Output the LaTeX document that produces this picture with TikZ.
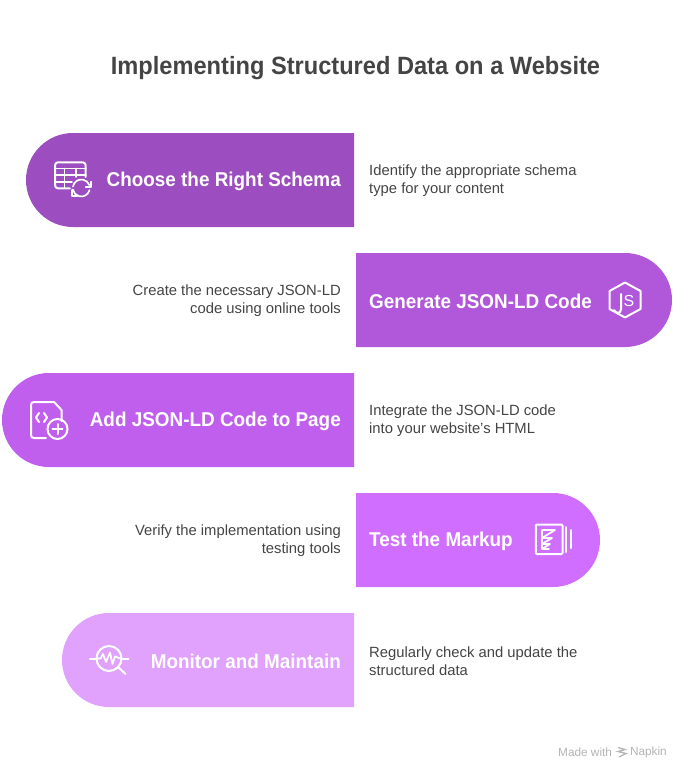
\documentclass[tikz,border=0pt]{standalone}
\usepackage{fontspec}
\setmainfont{Liberation Sans}
\newfontfamily\headfont[FakeStretch=0.945]{Liberation Sans}
\usetikzlibrary{positioning,shapes.misc}
\definecolor{bandA}{HTML}{9C4DBF}
\definecolor{bandB}{HTML}{B158DA}
\definecolor{bandC}{HTML}{C05FEE}
\definecolor{bandD}{HTML}{D06FFF}
\definecolor{bandE}{HTML}{E0A2FC}
\definecolor{ink}{HTML}{444444}
\definecolor{mark}{HTML}{B4B4B4}
\tikzset{
  band/.style={rounded rectangle,draw=none,minimum height=94pt,inner sep=0pt,outer sep=0pt},
  left band/.style={band,rounded rectangle east arc=none},
  right band/.style={band,rounded rectangle west arc=none},
  band label/.style={text=white,inner sep=0pt,yshift=-1pt,font=\headfont\fontsize{20}{24}\selectfont\bfseries},
  side text/.style={text=ink,inner sep=0pt,yshift=-1pt,font=\fontsize{14.8}{18}\selectfont},
  icon/.style={draw=white,line width=2pt,line cap=round,line join=round}
}
\begin{document}
\begin{tikzpicture}[x=1pt,y=-1pt]
  \useasboundingbox (0,0) rectangle (691,781);

  \node[text=ink,inner sep=0pt,font=\headfont\fontsize{25}{30}\selectfont\bfseries] (title) at (355.5,68.5) {Implementing Structured Data on a Website};

  \node[left band,fill=bandA,minimum width=328pt] (schema) at (190,180) {};
  \node[right band,fill=bandB,minimum width=316pt] (code) at (514,300) {};
  \node[left band,fill=bandC,minimum width=352pt] (page) at (178,420) {};
  \node[right band,fill=bandD,minimum width=244pt] (markup) at (478,540) {};
  \node[left band,fill=bandE,minimum width=292pt] (monitor) at (208,660) {};

  \node[band label,anchor=east] (schemaL) [left=13pt of schema.east] {Choose the Right Schema};
  \node[band label,anchor=west] (codeL) [right=13pt of code.west] {Generate JSON-LD Code};
  \node[band label,anchor=east] (pageL) [left=13pt of page.east] {Add JSON-LD Code to Page};
  \node[band label,anchor=west] (markupL) [right=13pt of markup.west] {Test the Markup};
  \node[band label,anchor=east] (monitorL) [left=13pt of monitor.east] {Monitor and Maintain};

  \node[side text,anchor=west,align=left] (schemaT) [right=15pt of schema.east] {Identify the appropriate schema\\type for your content};
  \node[side text,anchor=east,align=right] (codeT) [left=15pt of code.west] {Create the necessary JSON-LD\\code using online tools};
  \node[side text,anchor=west,align=left] (pageT) [right=15pt of page.east] {Integrate the JSON-LD code\\into your website's HTML};
  \node[side text,anchor=east,align=right] (markupT) [left=15pt of markup.west] {Verify the implementation using\\testing tools};
  \node[side text,anchor=west,align=left] (monitorT) [right=15pt of monitor.east] {Regularly check and update the\\structured data};

  % table and refresh
  \draw[icon,rounded corners=3pt] (70,188.3) -- (55,188.3) -- (55,162.3) -- (85.7,162.3) -- (85.7,177);
  \draw[icon,line width=1.7pt] (55,168.5) -- (85.7,168.5) (55,175) -- (85.7,175) (55,181.7) -- (72,181.7) (64.5,168.5) -- (64.5,188) (75.7,168.5) -- (75.7,177);
  \draw[icon,line width=1.7pt] (73,186.5) arc (-170:-20:8.5) (89.5,190.2) arc (15:170:8.5);
  \draw[icon,line width=1.7pt] (90.7,181.7) -- (90.7,186.7) -- (85.7,186.7) (72.3,190) -- (72.3,195.7) -- (77.3,195.7);

  % hexagon JS
  \draw[icon] (625,282.5) -- (640.5,291) -- (640.5,309) -- (625,317.5) -- (609.5,309) -- (609.5,291) -- cycle;
  \draw[icon] (621,294) -- (621,309) .. controls (621,314) and (616,314) .. (614,310);
  \node[text=white,inner sep=0pt,font=\fontsize{16}{16}\selectfont] (jsS) at (629,300.5) {S};

  % file with plus
  \draw[icon] (61.5,421) -- (61.5,410) -- (54,402) -- (34,402) .. controls (32,402) and (31,403) .. (31,405) -- (31,435) .. controls (31,437) and (32,438) .. (34,438) -- (46,438);
  \draw[icon] (39,413) -- (36,417.5) -- (39,422) (44,413) -- (47,417.5) -- (44,422);
  \node[circle,draw=white,line width=2pt,minimum size=20pt,inner sep=0pt] (plusC) at (57.5,429) {};
  \draw[icon] (plusC.center) ++(-5,0) -- ++(10,0) (plusC.center) ++(0,-5) -- ++(0,10);

  % report with bars
  \draw[icon,rounded corners=1pt] (535.8,524.5) rectangle (562.5,554);
  \draw[icon,line width=1.7pt] (542,530) -- (555,530) -- (542,538) -- (552,538) -- (542,544) -- (550,544) -- (542,549) -- (549,549) (542,530) -- (542,549);
  \draw[icon] (566,527) -- (566,552) (570.5,530) -- (570.5,548);

  % monitor lens
  \node[circle,draw=white,line width=2pt,minimum size=25pt,inner sep=0pt] (lens) at (109,658.5) {};
  \draw[icon] (lens.west) -- ++(-5.5,0) (lens.east) -- ++(6,0);
  \draw[icon,line width=1.7pt] (97,658.5) -- (100.5,658.5) -- (103,654) -- (106,662) -- (110,652.5) -- (112.5,664) -- (115,656.5) -- (120.5,658.5);
  \draw[icon] (117.5,666.5) -- (125.5,674);

  % footer
  \node[text=mark,inner sep=0pt,anchor=west,font=\fontsize{11.8}{13}\selectfont] (made) at (558,752.5) {Made with};
  \node[text=mark,inner sep=0pt,anchor=east,font=\fontsize{11.8}{13}\selectfont] (napkin) at (667,752.5) {Napkin};
  \draw[draw=mark,line width=1.3pt] (618,747.5) -- (625,749.5) -- (618,751.5) -- (626,753.5) -- (619,757);
\end{tikzpicture}
\end{document}
